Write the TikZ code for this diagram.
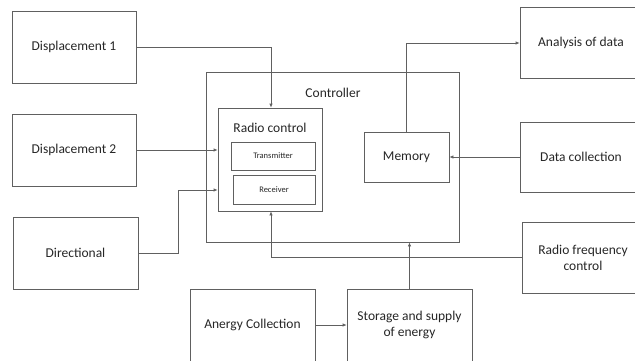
\documentclass[tikz,border=0pt]{standalone}
\usepackage{fontspec}
\setmainfont{Carlito}
\usetikzlibrary{arrows.meta}
\definecolor{ln}{HTML}{606060}
\definecolor{tx}{HTML}{262626}
\begin{document}
\begin{tikzpicture}[x=1pt,y=-1pt,
  box/.style={draw=ln,line width=0.7pt,inner sep=0pt,text=tx,font=\fontsize{13.5}{16}\selectfont,align=center},
  small/.style={box,font=\fontsize{8.5}{10}\selectfont},
  conn/.style={draw=ln,line width=0.7pt,-{Latex[length=4pt,width=3.5pt]}},
  plain/.style={draw=ln,line width=0.7pt}]
\useasboundingbox (0,0) rectangle (635,360);
\node[box,minimum width=124pt,minimum height=72pt] (d1) at (74,47) {Displacement 1};
\node[box,minimum width=124pt,minimum height=72pt] (d2) at (74,150) {Displacement 2};
\node[box,minimum width=125pt,minimum height=72pt] (dir) at (75.5,253) {Directional};
\node[draw=ln,line width=0.7pt,minimum width=253pt,minimum height=170pt,inner sep=0pt] (ctrl) at (332.5,157) {};
\node[text=tx,font=\fontsize{13.5}{16}\selectfont] (ctrllbl) at (333,93) {Controller};
\node[draw=ln,line width=0.7pt,minimum width=104pt,minimum height=103pt,inner sep=0pt] (radio) at (270,159.5) {};
\node[text=tx,font=\fontsize{13.5}{16}\selectfont] (radiolbl) at (270,128) {Radio control};
\node[small,minimum width=84pt,minimum height=28pt] (trans) at (273,156) {Transmitter};
\node[small,minimum width=82pt,minimum height=29pt] (recv) at (274,189.5) {Receiver};
\node[box,minimum width=85pt,minimum height=50pt] (mem) at (406.5,157) {Memory};
\node[box,minimum width=122pt,minimum height=71pt] (ana) at (581,42.5) {Analysis of data};
\node[box,minimum width=122pt,minimum height=70pt] (data) at (581,157) {Data collection};
\node[box,minimum width=122pt,minimum height=71pt] (rf) at (583,257.5) {Radio frequency\\control};
\node[box,minimum width=125pt,minimum height=72pt] (an) at (252.5,325) {Anergy Collection};
\node[box,minimum width=125pt,minimum height=72pt] (st) at (409.5,325) {Storage and supply\\of energy};
\draw[conn] (d1.east) -- (271,47) -- (radio.north -| 271,0);
\draw[conn] (d2.east) -- (d2.east -| radio.west);
\draw[conn] (dir.east) -- (178,253) -- (178,190) -- (radio.west |- 0,190);
\draw[conn] (mem.north) -- (406.5,43) -- (ana.west |- 0,43);
\draw[conn] (data.west) -- (mem.east);
\draw[conn] (rf.west) -- (271,257.5) -- (radio.south -| 271,0);
\draw[conn] (an.east) -- (st.west);
\draw[conn] (st.north) -- (ctrl.south -| st.north);
\end{tikzpicture}
\end{document}
